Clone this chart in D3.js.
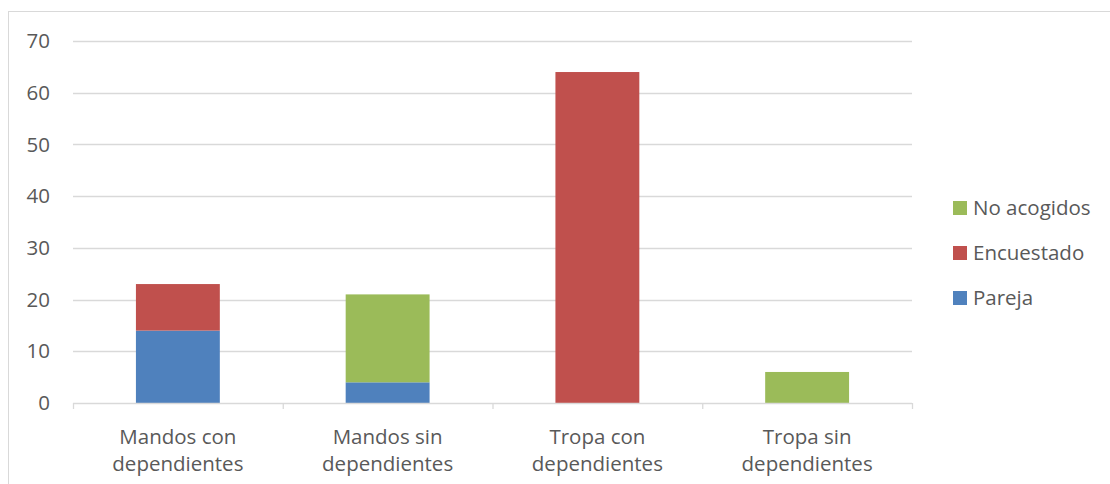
<!DOCTYPE html>
<html>
<head>
<meta charset="utf-8">
<script src="https://cdn.jsdelivr.net/npm/d3@7/dist/d3.min.js"></script>
<style>
  html, body { margin: 0; padding: 0; background: #fff; }
  svg { display: block; }
  text { font-family: "Open Sans", Lato, sans-serif; fill: #595959; }
</style>
</head>
<body>
<svg id="chart" width="1110" height="484"></svg>
<script>
// Categories and stacked series values
const categories = [
  ["Mandos con", "dependientes"],
  ["Mandos sin", "dependientes"],
  ["Tropa con", "dependientes"],
  ["Tropa sin", "dependientes"]
];
const pareja     = [14, 4, 0, 0];
const encuestado = [9, 0, 64, 0];
const noAcogidos = [0, 17, 0, 6];
const yTicks = [0, 10, 20, 30, 40, 50, 60, 70];

const seriesNames  = ["Pareja", "Encuestado", "No acogidos"];
const seriesColors = ["#4F81BD", "#C0504D", "#9BBB59"];
const fontSize = "20.5px";

const rows = categories.map((c, i) => ({
  key: i,
  "Pareja": pareja[i],
  "Encuestado": encuestado[i],
  "No acogidos": noAcogidos[i]
}));

const svg = d3.select("#chart");

// Outer chart border
svg.append("rect")
  .attr("x", 8.5).attr("y", 11.5)
  .attr("width", 1120).attr("height", 500)
  .attr("fill", "none").attr("stroke", "#D9D9D9").attr("stroke-width", 1);

const plot = { left: 73, right: 912, top: 41, bottom: 403 };

const x = d3.scaleBand()
  .domain(d3.range(categories.length))
  .range([plot.left, plot.right])
  .paddingInner(0.6).paddingOuter(0.3);

const y = d3.scaleLinear().domain([0, 70]).range([plot.bottom, plot.top]);

// Horizontal gridlines
svg.append("g").selectAll("line")
  .data(yTicks.filter(t => t > 0))
  .join("line")
  .attr("x1", plot.left).attr("x2", plot.right)
  .attr("y1", d => Math.round(y(d)) + 0.5).attr("y2", d => Math.round(y(d)) + 0.5)
  .attr("stroke", "#D9D9D9").attr("stroke-width", 1.3);

// Y axis labels
svg.append("g").selectAll("text")
  .data(yTicks)
  .join("text")
  .attr("x", 50).attr("y", d => y(d))
  .attr("dy", "0.35em")
  .attr("text-anchor", "end")
  .style("font-size", fontSize)
  .text(d => d);

// Stacked bars
const stack = d3.stack().keys(seriesNames);
const layers = stack(rows);

svg.append("g").selectAll("g")
  .data(layers)
  .join("g")
  .attr("fill", (d, i) => seriesColors[i])
  .selectAll("rect")
  .data(d => d.filter(s => s[1] - s[0] > 0))
  .join("rect")
  .attr("x", d => x(d.data.key))
  .attr("width", x.bandwidth())
  .attr("y", d => y(d[1]))
  .attr("height", d => y(d[0]) - y(d[1]));

// Category axis line and tick marks
const step = (plot.right - plot.left) / categories.length;
const axis = svg.append("g").attr("stroke", "#D9D9D9").attr("stroke-width", 1.3);
axis.append("line")
  .attr("x1", plot.left).attr("x2", plot.right)
  .attr("y1", plot.bottom + 0.5).attr("y2", plot.bottom + 0.5);
axis.selectAll("line.tick")
  .data(d3.range(categories.length + 1))
  .join("line")
  .attr("class", "tick")
  .attr("x1", i => plot.left + i * step + 0.5)
  .attr("x2", i => plot.left + i * step + 0.5)
  .attr("y1", plot.bottom).attr("y2", plot.bottom + 6);

// Category labels (two lines)
const cat = svg.append("g").selectAll("text")
  .data(categories)
  .join("text")
  .attr("text-anchor", "middle")
  .style("font-size", fontSize);
cat.each(function (lines, i) {
  const t = d3.select(this);
  lines.forEach((ln, j) => {
    t.append("tspan")
      .attr("x", x(i) + x.bandwidth() / 2)
      .attr("y", 444 + j * 27)
      .text(ln);
  });
});

// Legend
const legendItems = [
  { name: "No acogidos", color: seriesColors[2] },
  { name: "Encuestado", color: seriesColors[1] },
  { name: "Pareja", color: seriesColors[0] }
];
const lg = svg.append("g").selectAll("g")
  .data(legendItems)
  .join("g")
  .attr("transform", (d, i) => `translate(953, ${208 + i * 45})`);
lg.append("rect")
  .attr("x", 0).attr("y", -7).attr("width", 14).attr("height", 14)
  .attr("fill", d => d.color);
lg.append("text")
  .attr("x", 20).attr("y", 0).attr("dy", "0.35em")
  .style("font-size", fontSize)
  .text(d => d.name);
</script>
</body>
</html>
